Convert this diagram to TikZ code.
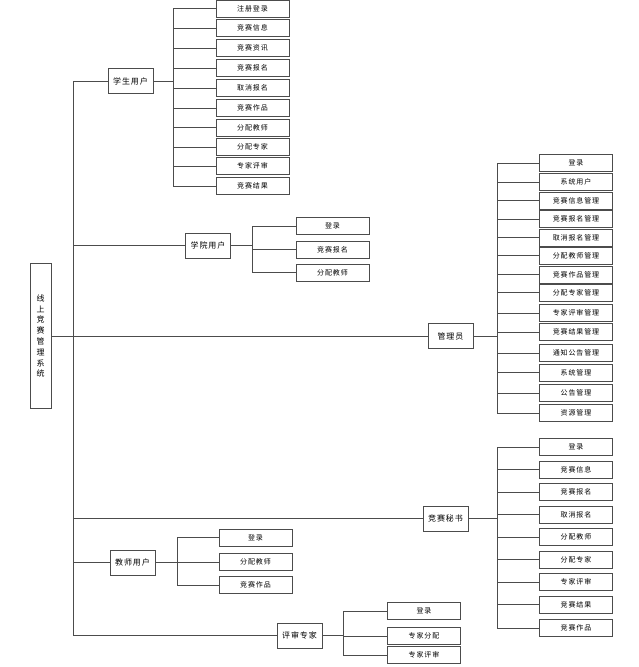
\documentclass[tikz,border=0pt]{standalone}
\usepackage{fontspec}
\newfontfamily\cjk[LetterSpace=12]{Noto Sans CJK SC}
\usetikzlibrary{positioning}

\begin{document}
\begin{tikzpicture}[x=1pt,y=-1pt,
  box/.style={draw=black!70,fill=white,inner sep=0pt,font=\cjk\fontsize{8}{9}\selectfont},
  role/.style={box,minimum width=45pt,minimum height=25pt},
  leaf/.style={box,minimum width=73pt,minimum height=17pt,font=\cjk\fontsize{7}{8}\selectfont},
  link/.style={draw=black!70,line width=0.6pt}]
  \useasboundingbox (0,0) rectangle (639,667);

  % root and trunk
  \node[box,minimum width=21pt,minimum height=145pt,align=center,font=\cjk\fontsize{8}{10.8}\selectfont] (sys) at (40.5,336) {线\\上\\竞\\赛\\管\\理\\系\\统};
  \coordinate (trunk) at (73,336);

  \node[role] (stu) at (130.5,81) {学生用户};
  \node[role] (col) at (208,245.5) {学院用户};
  \node[role] (adm) at (450.5,336) {管理员};
  \node[role] (sec) at (445.5,518.5) {竞赛秘书};
  \node[role] (tea) at (132.5,562.5) {教师用户};
  \node[role] (exp) at (299.5,635.5) {评审专家};

  \draw[link] (sys.east) -- (adm.west);
  \draw[link] (stu.west -| trunk) -- (exp.west -| trunk);
  \foreach \b in {stu,col,sec,tea,exp}
    \draw[link] (\b.west -| trunk) -- (\b.west);

  % student
  \coordinate (stuS) at (173,81);
  \draw[link] (stu.east) -- (stuS);
  \foreach \y/\t [count=\i] in {8.5/注册登录,28/竞赛信息,48/竞赛资讯,68/竞赛报名,88/取消报名,
      108/竞赛作品,127.5/分配教师,147/分配专家,166/专家评审,186/竞赛结果} {
    \node[leaf] (stu\i) at (252.5,\y) {\t};
    \draw[link] (stuS) |- (stu\i.west);
  }

  % college
  \coordinate (colS) at (252,245.5);
  \draw[link] (col.east) -- (colS);
  \foreach \y/\t [count=\i] in {226/登录,249.5/竞赛报名,272.5/分配教师} {
    \node[leaf] (col\i) at (332.5,\y) {\t};
    \draw[link] (colS) |- (col\i.west);
  }

  % admin
  \coordinate (admS) at (497,336);
  \draw[link] (adm.east) -- (admS);
  \foreach \y/\t [count=\i] in {163/登录,182/系统用户,200.5/竞赛信息管理,219/竞赛报名管理,
      237.5/取消报名管理,255.5/分配教师管理,274.5/竞赛作品管理,292.5/分配专家管理,
      313/专家评审管理,332/竞赛结果管理,353/通知公告管理,372.5/系统管理,393/公告管理,413/资源管理} {
    \node[leaf] (adm\i) at (576,\y) {\t};
    \draw[link] (admS) |- (adm\i.west);
  }

  % secretary
  \coordinate (secS) at (497,518.5);
  \draw[link] (sec.east) -- (secS);
  \foreach \y/\t [count=\i] in {447/登录,469.5/竞赛信息,492/竞赛报名,514.5/取消报名,537/分配教师,
      559.5/分配专家,582/专家评审,604.5/竞赛结果,628/竞赛作品} {
    \node[leaf] (sec\i) at (576,\y) {\t};
    \draw[link] (secS) |- (sec\i.west);
  }

  % teacher
  \coordinate (teaS) at (177,562.5);
  \draw[link] (tea.east) -- (teaS);
  \foreach \y/\t [count=\i] in {537.5/登录,562/分配教师,585/竞赛作品} {
    \node[leaf] (tea\i) at (255.5,\y) {\t};
    \draw[link] (teaS) |- (tea\i.west);
  }

  % expert
  \coordinate (expS) at (343,635.5);
  \draw[link] (exp.east) -- (expS);
  \foreach \y/\t [count=\i] in {611/登录,636/专家分配,655/专家评审} {
    \node[leaf] (exp\i) at (424,\y) {\t};
    \draw[link] (expS) |- (exp\i.west);
  }
\end{tikzpicture}
\end{document}
